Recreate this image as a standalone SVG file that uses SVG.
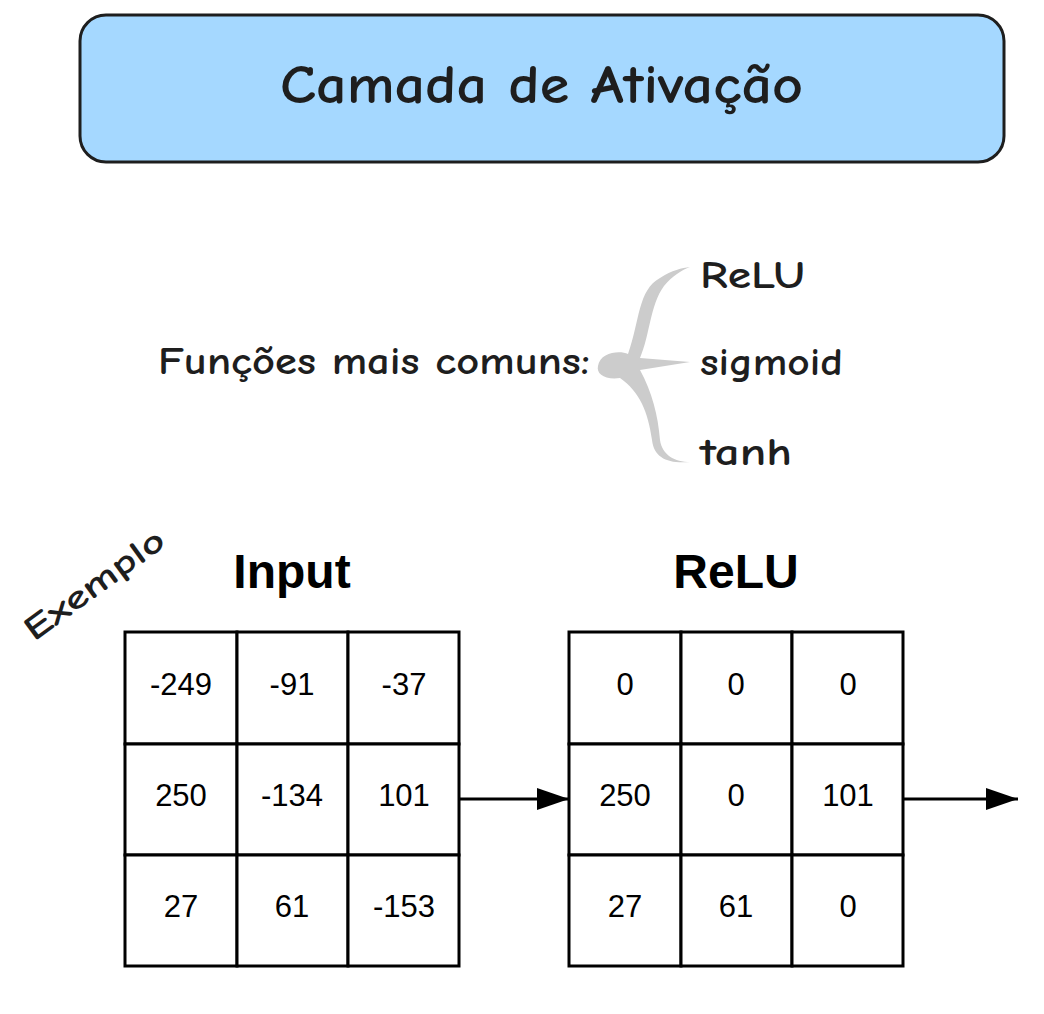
<svg xmlns="http://www.w3.org/2000/svg" width="1044" height="1014" viewBox="0 0 1044 1014">
<style>
.hand{font-family:"Comic Neue","Open Sans","Liberation Sans",sans-serif;fill:#1e1e1e;font-weight:bold}
.cell{fill:#fff;stroke:#000;stroke-width:3}
.num{font-family:"Liberation Sans",Arial,sans-serif;font-size:31px;fill:#000;text-anchor:middle}
.head{font-family:"Liberation Sans",Arial,sans-serif;font-size:48px;font-weight:bold;fill:#000;text-anchor:middle}
.conn{stroke:#000;stroke-width:3;fill:none}
</style>
<defs>
<marker id="ah2" viewBox="0 0 32 22" refX="32" refY="11" markerWidth="32" markerHeight="22" markerUnits="userSpaceOnUse" orient="auto">
<path d="M0,0 L32,11 L0,22 z" fill="#000"/>
</marker>
</defs>
<rect width="1044" height="1014" fill="#fff"/>
<g id="title">
<rect x="80" y="15" width="924" height="147" rx="26" fill="#a5d8ff" stroke="#1e1e1e" stroke-width="3"/>
<text class="hand" x="280" y="103" font-size="54" textLength="523" lengthAdjust="spacingAndGlyphs">Camada de Ativação</text>
</g>
<g id="functions">
<text class="hand" x="158" y="374" font-size="38" textLength="432" lengthAdjust="spacingAndGlyphs">Funções mais comuns:</text>
<path d="M598,366 C600,352 620,350 628,354 C640,320 638,290 660,278 C672,270 682,268 690,267 C682,270 672,276 664,286 C650,305 650,335 640,358 L690,362 L640,370 C652,392 658,415 660,440 C662,455 675,462 690,462 C668,464 654,458 652,440 C648,412 640,392 620,378 C605,380 596,374 598,366 Z" fill="#cccccc"/>
<text class="hand" x="700" y="288" font-size="38" textLength="105" lengthAdjust="spacingAndGlyphs">ReLU</text>
<text class="hand" x="700" y="375" font-size="38" textLength="143" lengthAdjust="spacingAndGlyphs">sigmoid</text>
<text class="hand" x="700" y="465" font-size="38" textLength="92" lengthAdjust="spacingAndGlyphs">tanh</text>
</g>
<g id="exemplo">
<text class="hand" x="0" y="0" font-size="34" textLength="165" lengthAdjust="spacingAndGlyphs" transform="translate(34,642) rotate(-36)">Exemplo</text>
</g>
<g id="input">
<text class="head" x="292" y="588">Input</text>
<rect class="cell" x="125" y="632" width="112" height="112"/>
<rect class="cell" x="237" y="632" width="111" height="112"/>
<rect class="cell" x="348" y="632" width="111" height="112"/>
<rect class="cell" x="125" y="744" width="112" height="111"/>
<rect class="cell" x="237" y="744" width="111" height="111"/>
<rect class="cell" x="348" y="744" width="111" height="111"/>
<rect class="cell" x="125" y="855" width="112" height="111"/>
<rect class="cell" x="237" y="855" width="111" height="111"/>
<rect class="cell" x="348" y="855" width="111" height="111"/>
<text class="num" x="181" y="695">-249</text>
<text class="num" x="292" y="695">-91</text>
<text class="num" x="404" y="695">-37</text>
<text class="num" x="181" y="806">250</text>
<text class="num" x="292" y="806">-134</text>
<text class="num" x="404" y="806">101</text>
<text class="num" x="181" y="917">27</text>
<text class="num" x="292" y="917">61</text>
<text class="num" x="404" y="917">-153</text>
</g>
<g id="relu">
<text class="head" x="736" y="588">ReLU</text>
<rect class="cell" x="569" y="632" width="112" height="112"/>
<rect class="cell" x="681" y="632" width="111" height="112"/>
<rect class="cell" x="792" y="632" width="111" height="112"/>
<rect class="cell" x="569" y="744" width="112" height="111"/>
<rect class="cell" x="681" y="744" width="111" height="111"/>
<rect class="cell" x="792" y="744" width="111" height="111"/>
<rect class="cell" x="569" y="855" width="112" height="111"/>
<rect class="cell" x="681" y="855" width="111" height="111"/>
<rect class="cell" x="792" y="855" width="111" height="111"/>
<text class="num" x="625" y="695">0</text>
<text class="num" x="736" y="695">0</text>
<text class="num" x="848" y="695">0</text>
<text class="num" x="625" y="806">250</text>
<text class="num" x="736" y="806">0</text>
<text class="num" x="848" y="806">101</text>
<text class="num" x="625" y="917">27</text>
<text class="num" x="736" y="917">61</text>
<text class="num" x="848" y="917">0</text>
</g>
<g id="connectors">
<line class="conn" x1="459" y1="799" x2="569" y2="799" marker-end="url(#ah2)"/>
<line class="conn" x1="903" y1="799" x2="1018" y2="799" marker-end="url(#ah2)"/>
</g>
</svg>
